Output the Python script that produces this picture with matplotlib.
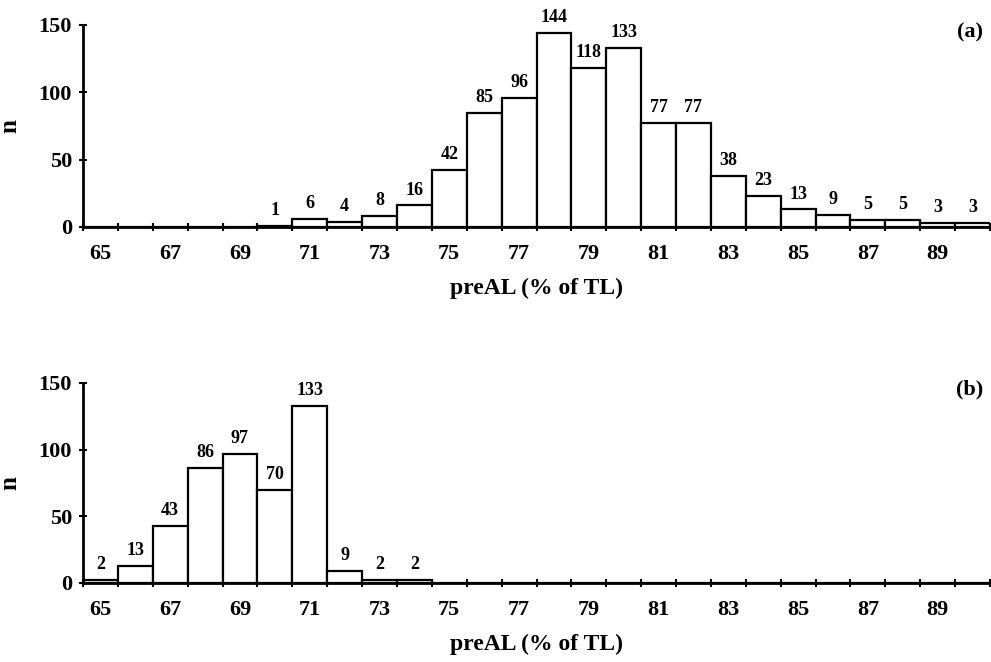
import matplotlib
matplotlib.use("Agg")
import matplotlib.pyplot as plt
import numpy as np

categories = list(range(65, 91))
counts_a = [0, 0, 0, 0, 0, 1, 6, 4, 8, 16, 42, 85, 96, 144, 118, 133, 77, 77, 38, 23, 13, 9, 5, 5, 3, 3]
counts_b = [2, 13, 43, 86, 97, 70, 133, 9, 2, 2, 0, 0, 0, 0, 0, 0, 0, 0, 0, 0, 0, 0, 0, 0, 0, 0]
tick_labels = [str(c) for c in categories[::2]]
panel_tags = ["(a)", "(b)"]
xlabel_text = "preAL (% of TL)"
ylabel_text = "n"

plt.rcParams['font.family'] = ['Liberation Serif', 'DejaVu Serif']
plt.rcParams['font.weight'] = 'bold'

fig = plt.figure(figsize=(9.91, 6.62), dpi=100)
W, H = 991, 662

def make_axes(top_px, bottom_px):
    left = 83 / W
    right = 990 / W
    return fig.add_axes([left, 1 - bottom_px / H, right - left, (bottom_px - top_px) / H])

ax_a = make_axes(25, 227)
ax_b = make_axes(383, 583)

for ax, counts, tag, tag_y in [(ax_a, counts_a, panel_tags[0], 32), (ax_b, counts_b, panel_tags[1], 389)]:
    x = np.arange(len(categories))
    ax.bar(x, counts, width=1.0, facecolor='white', edgecolor='black', linewidth=1.6, zorder=2)
    for xi, v in zip(x, counts):
        if v > 0:
            ax.annotate(str(v), (xi, v), xytext=(0, 5), textcoords='offset points',
                        ha='center', va='bottom', fontsize=13, fontweight='bold')
    ax.set_xlim(-0.5, len(categories) - 0.5)
    ax.set_ylim(0, 150)
    ax.set_yticks([0, 50, 100, 150])
    ax.set_yticklabels(['0', '50', '100', '150'])
    ax.set_xticks(np.arange(-0.5, len(categories) + 0.5, 1.0))
    ax.set_xticklabels([])
    ax.set_xticks(x[::2], minor=True)
    ax.set_xticklabels(tick_labels, minor=True)
    ax.tick_params(axis='x', which='major', direction='inout', length=6, width=1.5)
    ax.tick_params(axis='x', which='minor', length=0, pad=12, labelsize=16)
    ax.tick_params(axis='y', direction='inout', length=6, width=1.5, pad=5, labelsize=16)
    for s in ['top', 'right']:
        ax.spines[s].set_visible(False)
    for s in ['left', 'bottom']:
        ax.spines[s].set_linewidth(2)
    ax.spines['bottom'].set_zorder(3)
    ax.set_xlabel(xlabel_text, fontsize=17, fontweight='bold', labelpad=10)
    ax.set_ylabel(ylabel_text, fontsize=18, fontweight='bold', labelpad=12)
    fig.text(983 / W, 1 - tag_y / H, tag, ha='right', va='center', fontsize=16, fontweight='bold')
    for lbl in ax.get_xticklabels(minor=True) + ax.get_yticklabels():
        lbl.set_fontweight('bold')

fig.savefig("out.png", dpi=100, facecolor='white')
